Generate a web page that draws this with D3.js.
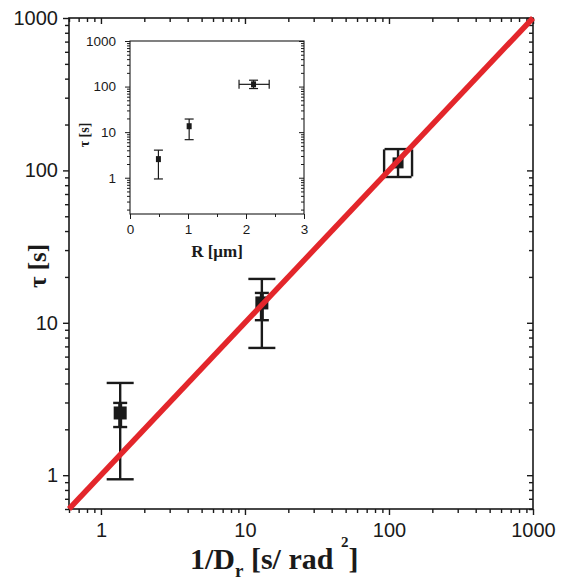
<!DOCTYPE html>
<html>
<head>
<meta charset="utf-8">
<script src="https://cdn.jsdelivr.net/npm/d3@7"></script>
<style>
  html, body { margin: 0; padding: 0; background: #fff; }
  svg { display: block; }
</style>
</head>
<body>
<div id="chart"></div>
<script>
// ---------- data ----------
const invDr      = [1.36, 13.1, 115.6];   // 1/Dr  [s/rad^2]
const invDrLow   = [1.36, 13.1, 92.5];
const invDrHigh  = [1.36, 13.1, 144.6];
const tau        = [2.56, 13.5, 112];     // tau [s]
const tauLow     = [0.94, 6.84, 90.5];
const tauHigh    = [4.03, 19.4, 138];
const tauInLow   = [2.07, 10.4, 112];     // small inner error bars
const tauInHigh  = [2.98, 15.7, 112];
const radius     = [0.49, 1.02, 2.13];    // R [um]
const radiusLow  = [0.49, 1.02, 1.88];
const radiusHigh = [0.49, 1.02, 2.40];
const fitLine    = [0.6, 1000];           // y = x
const mainTicks  = [1, 10, 100, 1000];
const insetYTicks = [1, 10, 100, 1000];
const insetXTicks = [0, 1, 2, 3];

const W = 579, H = 583;
const ink = "#1a1a1a";
const svg = d3.select("#chart").append("svg").attr("width", W).attr("height", H);

// ---------- main scales ----------
const x = d3.scaleLog().domain([0.6, 1000]).range([69, 533]);
const y = d3.scaleLog().domain([0.6, 1000]).range([509, 18]);

function minorLog(lo, hi) {
  const out = [];
  for (let e = -2; e <= 3; e++) {
    for (let m = 2; m <= 9; m++) {
      const v = m * Math.pow(10, e);
      if (v >= lo - 1e-9 && v <= hi + 1e-9) out.push(+v.toPrecision(3));
    }
  }
  return out;
}
const mainMinor = minorLog(0.6, 1000);

const sansFont = "'Liberation Sans', Arial, sans-serif";
const serifFont = "'Liberation Serif', 'Times New Roman', serif";

function styleAxis(g, fs) {
  g.select(".domain").remove();
  g.selectAll(".tick line").attr("stroke", ink).attr("stroke-width", 1.4);
  g.selectAll(".tick text").attr("fill", ink).style("font-family", sansFont).style("font-size", fs + "px");
}

// bottom
svg.append("g").attr("transform", `translate(0,${y.range()[0]})`)
  .call(d3.axisBottom(x).tickValues(mainTicks).tickSize(6).tickPadding(8).tickFormat(d3.format("d")))
  .call(g => styleAxis(g, 20));
svg.append("g").attr("transform", `translate(0,${y.range()[0]})`)
  .call(d3.axisBottom(x).tickValues(mainMinor).tickSize(4).tickFormat(""))
  .call(g => styleAxis(g, 20));
// top (inward)
svg.append("g").attr("transform", `translate(0,${y.range()[1]})`)
  .call(d3.axisTop(x).tickValues(mainTicks).tickSize(-6).tickFormat(""))
  .call(g => styleAxis(g, 20));
svg.append("g").attr("transform", `translate(0,${y.range()[1]})`)
  .call(d3.axisTop(x).tickValues(mainMinor).tickSize(-4).tickFormat(""))
  .call(g => styleAxis(g, 20));
// left
svg.append("g").attr("transform", `translate(${x.range()[0]},0)`)
  .call(d3.axisLeft(y).tickValues(mainTicks).tickSize(6).tickPadding(5).tickFormat(d3.format("d")))
  .call(g => styleAxis(g, 20));
svg.append("g").attr("transform", `translate(${x.range()[0]},0)`)
  .call(d3.axisLeft(y).tickValues(mainMinor).tickSize(4).tickFormat(""))
  .call(g => styleAxis(g, 20));
// right (inward)
svg.append("g").attr("transform", `translate(${x.range()[1]},0)`)
  .call(d3.axisRight(y).tickValues(mainTicks).tickSize(-6).tickFormat(""))
  .call(g => styleAxis(g, 20));
svg.append("g").attr("transform", `translate(${x.range()[1]},0)`)
  .call(d3.axisRight(y).tickValues(mainMinor).tickSize(-4).tickFormat(""))
  .call(g => styleAxis(g, 20));

// frame
svg.append("rect")
  .attr("x", x.range()[0]).attr("y", y.range()[1])
  .attr("width", x.range()[1] - x.range()[0]).attr("height", y.range()[0] - y.range()[1])
  .attr("fill", "none").attr("stroke", ink).attr("stroke-width", 1.6);

// ---------- main data ----------
const pts = invDr.map((d, i) => ({
  x: d, y: tau[i], xl: invDrLow[i], xh: invDrHigh[i],
  yl: tauLow[i], yh: tauHigh[i], il: tauInLow[i], ih: tauInHigh[i]
}));

const capM = 13.5;
const gm = svg.append("g").attr("stroke", ink).attr("stroke-width", 2.4).attr("fill", "none");
pts.forEach((p, i) => {
  const cx = x(p.x), cy = y(p.y);
  // vertical outer error bar
  gm.append("line").attr("x1", cx).attr("x2", cx).attr("y1", y(p.yl)).attr("y2", y(p.yh));
  gm.append("line").attr("x1", cx - capM).attr("x2", cx + capM).attr("y1", y(p.yl)).attr("y2", y(p.yl));
  gm.append("line").attr("x1", cx - capM).attr("x2", cx + capM).attr("y1", y(p.yh)).attr("y2", y(p.yh));
  // horizontal error bar (caps only visible, forming a box)
  if (p.xh > p.xl) {
    gm.append("line").attr("x1", x(p.xl)).attr("x2", x(p.xl)).attr("y1", cy - capM).attr("y2", cy + capM);
    gm.append("line").attr("x1", x(p.xh)).attr("x2", x(p.xh)).attr("y1", cy - capM).attr("y2", cy + capM);
  }
  // inner error bars
  if (p.ih > p.il) {
    gm.append("line").attr("x1", cx).attr("x2", cx).attr("y1", y(p.il)).attr("y2", y(p.ih)).attr("stroke-width", 4);
    gm.append("line").attr("x1", cx - 7).attr("x2", cx + 7).attr("y1", y(p.il)).attr("y2", y(p.il));
    gm.append("line").attr("x1", cx - 7).attr("x2", cx + 7).attr("y1", y(p.ih)).attr("y2", y(p.ih));
  }
  const s = i === 2 ? 11 : 13;
  svg.append("rect").attr("x", cx - s / 2).attr("y", cy - s / 2).attr("width", s).attr("height", s).attr("fill", ink);
});

// fit line y = x
svg.append("line")
  .attr("x1", x(fitLine[0])).attr("y1", y(fitLine[0]))
  .attr("x2", x(fitLine[1])).attr("y2", y(fitLine[1]))
  .attr("stroke", "#e3262b").attr("stroke-width", 5.5).attr("stroke-linecap", "butt");

// ---------- main axis titles ----------
const xt = svg.append("text").attr("x", 190).attr("y", 569)
  .style("font-family", serifFont).style("font-weight", "bold").style("font-size", "30px").attr("fill", ink);
xt.append("tspan").text("1/D");
xt.append("tspan").attr("dy", 8).style("font-size", "19px").text("r");
xt.append("tspan").attr("dy", -8).text(" [s/ rad ");
xt.append("tspan").attr("dy", -22).style("font-size", "15px").text("2");
xt.append("tspan").attr("dy", 22).text("]");

svg.append("text").attr("transform", "translate(46,266) rotate(-90)")
  .attr("text-anchor", "middle")
  .style("font-family", serifFont).style("font-weight", "bold").style("font-size", "25px").attr("fill", ink)
  .text("τ [s]");

// ---------- inset ----------
const ix = d3.scaleLinear().domain([0, 3]).range([130, 304]);
const iy = d3.scaleLog().domain([0.16, 1000]).range([214, 41]);
const insetMinorY = minorLog(0.16, 1000);
const insetMinorX = [0.5, 1.5, 2.5];

svg.append("rect").attr("x", 130).attr("y", 41).attr("width", 174).attr("height", 173).attr("fill", "#fff");

function styleI(g) { styleAxis(g, 13.5); g.selectAll(".tick line").attr("stroke-width", 1); }

svg.append("g").attr("transform", `translate(0,${iy.range()[0]})`)
  .call(d3.axisBottom(ix).tickValues(insetXTicks).tickSize(5).tickPadding(5).tickFormat(d3.format("d")))
  .call(styleI);
svg.append("g").attr("transform", `translate(0,${iy.range()[0]})`)
  .call(d3.axisBottom(ix).tickValues(insetMinorX).tickSize(3).tickFormat(""))
  .call(styleI);
svg.append("g").attr("transform", `translate(${ix.range()[0]},0)`)
  .call(d3.axisLeft(iy).tickValues(insetYTicks).tickSize(5).tickPadding(9).tickFormat(d3.format("d")))
  .call(styleI);
svg.append("g").attr("transform", `translate(${ix.range()[0]},0)`)
  .call(d3.axisLeft(iy).tickValues(insetMinorY).tickSize(3).tickFormat(""))
  .call(styleI);
svg.append("g").attr("transform", `translate(${ix.range()[1]},0)`)
  .call(d3.axisRight(iy).tickValues(insetYTicks).tickSize(-5).tickFormat(""))
  .call(styleI);
svg.append("g").attr("transform", `translate(${ix.range()[1]},0)`)
  .call(d3.axisRight(iy).tickValues(insetMinorY).tickSize(-3).tickFormat(""))
  .call(styleI);

svg.append("rect").attr("x", 130).attr("y", 41).attr("width", 174).attr("height", 173)
  .attr("fill", "none").attr("stroke", ink).attr("stroke-width", 1.1);

const ipts = radius.map((r, i) => ({ x: r, xl: radiusLow[i], xh: radiusHigh[i], y: tau[i], yl: tauLow[i], yh: tauHigh[i] }));
const gi = svg.append("g").attr("stroke", ink).attr("stroke-width", 1.2);
const capI = 4.5;
ipts.forEach(p => {
  const cx = ix(p.x), cy = iy(p.y);
  gi.append("line").attr("x1", cx).attr("x2", cx).attr("y1", iy(p.yl)).attr("y2", iy(p.yh));
  gi.append("line").attr("x1", cx - capI).attr("x2", cx + capI).attr("y1", iy(p.yl)).attr("y2", iy(p.yl));
  gi.append("line").attr("x1", cx - capI).attr("x2", cx + capI).attr("y1", iy(p.yh)).attr("y2", iy(p.yh));
  if (p.xh > p.xl) {
    gi.append("line").attr("x1", ix(p.xl)).attr("x2", ix(p.xh)).attr("y1", cy).attr("y2", cy);
    gi.append("line").attr("x1", ix(p.xl)).attr("x2", ix(p.xl)).attr("y1", cy - capI).attr("y2", cy + capI);
    gi.append("line").attr("x1", ix(p.xh)).attr("x2", ix(p.xh)).attr("y1", cy - capI).attr("y2", cy + capI);
  }
  svg.append("rect").attr("x", cx - 2.5).attr("y", cy - 3).attr("width", 5).attr("height", 6).attr("fill", ink);
});

svg.append("text").attr("x", 217).attr("y", 257).attr("text-anchor", "middle")
  .style("font-family", serifFont).style("font-weight", "bold").style("font-size", "17px").attr("fill", ink)
  .text("R [μm]");
svg.append("text").attr("transform", "translate(89,135) rotate(-90)").attr("text-anchor", "middle")
  .style("font-family", serifFont).style("font-weight", "bold").style("font-size", "14px").attr("fill", ink)
  .text("τ [s]");
</script>
</body>
</html>
